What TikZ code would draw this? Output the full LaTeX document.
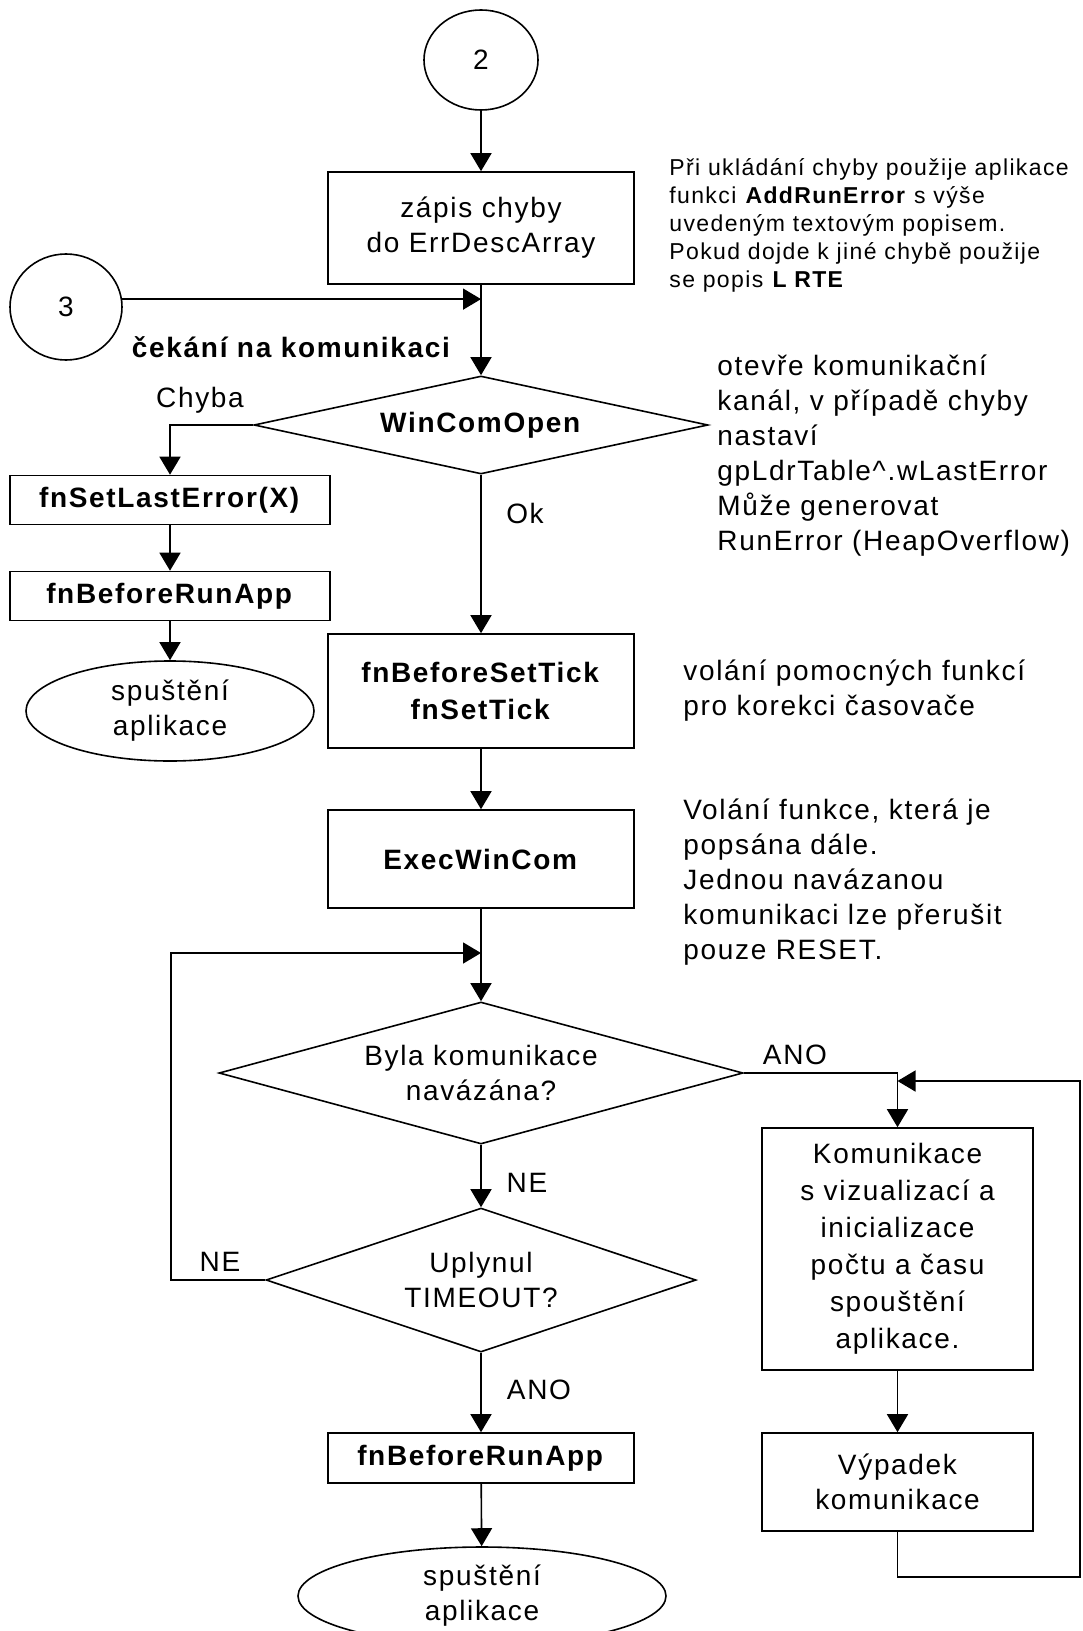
\documentclass[tikz,border=0pt]{standalone}
\usepackage{fontspec}
\setmainfont{Liberation Sans}[LetterSpace=6]
\usetikzlibrary{shapes.geometric,arrows.meta}

\newcommand{\txtmain}{\fontsize{14pt}{17.5pt}\selectfont}
\newcommand{\txtwide}{\fontsize{14pt}{18.5pt}\selectfont}
\newcommand{\txtsmall}{\fontsize{11.5pt}{14pt}\selectfont}

\tikzset{
  base/.style={draw, line width=0.8pt, inner sep=0pt, align=center, font=\txtmain},
  box/.style={base, rectangle},
  dia/.style={base, diamond},
  term/.style={base, ellipse},
  arr/.style={-{Triangle[length=9pt,width=10.5pt]}, line width=0.8pt},
  lbl/.style={inner sep=0pt, font=\txtmain},
  note/.style={inner sep=0pt, align=left, anchor=west, font=\txtmain},
}

\begin{document}
\begin{tikzpicture}[x=0.5pt,y=-0.5pt]
  \fill[white] (0,0) rectangle (1082,1631);
  \useasboundingbox (0,0) rectangle (1082,1631);

  % main column
  \node[term, minimum width=57pt, minimum height=50pt] (c2) at (481,60) {2};
  \node[box, minimum width=153pt, minimum height=56pt] (zapis) at (481,228) {zápis chyby\\do ErrDescArray};
  \node[term, minimum width=56pt, minimum height=53pt] (c3) at (66,307) {3};
  \node[lbl, font=\txtmain\bfseries] (wait) at (291,347) {čekání na komunikaci};
  \node[dia, shape aspect=4.63, minimum width=227pt, minimum height=49pt] (open) at (481,425) {\textbf{WinComOpen}};

  % error branch
  \node[lbl] (chyba) at (200,400) {Chyba};
  \node[box, minimum width=160pt, minimum height=24.5pt] (setlast) at (170,500) {\textbf{fnSetLastError(X)}};
  \node[box, minimum width=160pt, minimum height=24.5pt] (runA) at (170,596) {\textbf{fnBeforeRunApp}};
  \node[term, minimum width=144pt, minimum height=50pt] (startA) at (170,711) {spuštění\\aplikace};

  \node[lbl] (ok) at (525,513) {Ok};
  \node[box, font=\txtwide, minimum width=153pt, minimum height=57pt] (tick) at (481,691) {\textbf{fnBeforeSetTick}\\\textbf{fnSetTick}};
  \node[box, minimum width=153pt, minimum height=49pt] (exec) at (481,859) {\textbf{ExecWinCom}};
  \coordinate (join) at (481,953);
  \node[dia, shape aspect=3.69, minimum width=262pt, minimum height=71pt] (est) at (481,1073) {Byla komunikace\\navázána?};
  \node[lbl] (ano1) at (795,1055) {ANO};
  \node[lbl] (ne1) at (527,1183) {NE};
  \node[dia, shape aspect=2.99, minimum width=215pt, minimum height=72pt] (tout) at (481,1280) {Uplynul\\TIMEOUT?};
  \node[lbl] (ne2) at (220,1262) {NE};
  \node[lbl] (ano2) at (539,1390) {ANO};
  \node[box, minimum width=153pt, minimum height=25pt] (runB) at (481,1458) {\textbf{fnBeforeRunApp}};
  \node[term, minimum width=184pt, minimum height=49pt] (startB) at (482,1596) {spuštění\\aplikace};

  % communication branch
  \node[box, font=\txtwide, minimum width=135.5pt, minimum height=121pt] (kom) at (897.5,1249)
    {Komunikace\\s vizualizací a\\inicializace\\počtu a času\\spouštění\\aplikace.};
  \node[box, minimum width=135.5pt, minimum height=49pt] (vyp) at (897.5,1482) {Výpadek\\komunikace};

  % side notes
  \node[note, font=\txtsmall] (noteA) at (669,225)
    {Při ukládání chyby použije aplikace\\funkci \textbf{AddRunError} s výše\\uvedeným textovým popisem.\\Pokud dojde k jiné chybě použije\\se popis \textbf{L RTE}};
  \node[note] (noteB) at (717,456)
    {otevře komunikační\\kanál, v případě chyby\\nastaví\\gpLdrTable\textasciicircum.wLastError\\Může generovat\\RunError (HeapOverflow)};
  \node[note] (noteC) at (683,691) {volání pomocných funkcí\\pro korekci časovače};
  \node[note] (noteD) at (683,882)
    {Volání funkce, která je\\popsána dále.\\Jednou navázanou\\komunikaci lze přerušit\\pouze RESET.};

  % loop helpers
  \coordinate (lc) at (171,953);
  \coordinate (lb) at (897.5,1577);
  \coordinate (lr) at (1080,1577);
  \coordinate (lt) at (1080,1081);
  \coordinate (lin) at (897.5,1081);

  % connectors
  \draw[arr] (c2) -- (zapis);
  \draw[arr] (c3.8) -- (c3.8 -| zapis.south);
  \draw[arr] (zapis) -- (open);
  \draw[arr] (open.west) -| (setlast.north);
  \draw[arr] (setlast) -- (runA);
  \draw[arr] (runA) -- (startA);
  \draw[arr] (open) -- (tick);
  \draw[arr] (tick) -- (exec);
  \draw[arr] (exec.south) -- (est.north);
  \draw[arr] (est.east) -| (kom.north);
  \draw[arr] (kom) -- (vyp);
  \draw[arr] (vyp.south) -- (lb) -- (lr) -- (lt) -- (lin);
  \draw[arr] (est) -- (tout);
  \draw[arr] (tout.west) -| (lc) -- (join);
  \draw[arr] (tout) -- (runB);
  \draw[arr] (runB) -- (startB);
\end{tikzpicture}
\end{document}
